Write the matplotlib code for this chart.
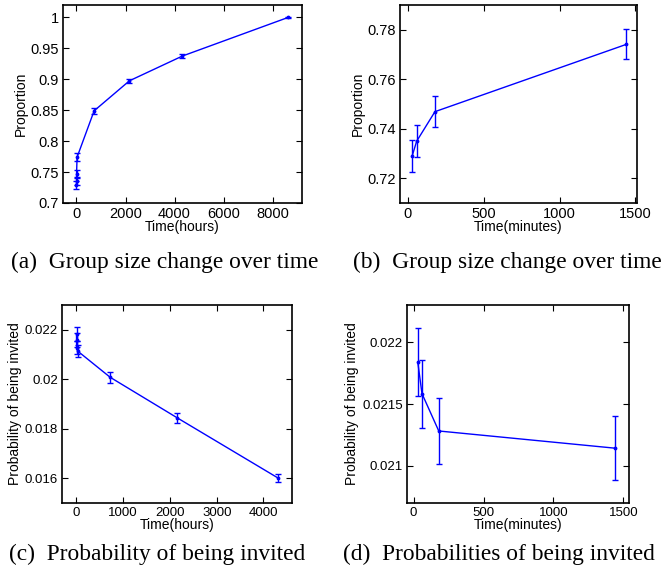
import matplotlib
matplotlib.use("Agg")
import matplotlib.pyplot as plt

# data
hours_a = [0.5, 1, 3, 24, 720, 2160, 4320, 8640]
prop_a = [0.729, 0.735, 0.747, 0.774, 0.849, 0.8975, 0.9375, 1.0]
err_a = [0.0063, 0.0064, 0.0062, 0.0061, 0.0045, 0.0037, 0.0027, 0.0008]

minutes_b = [30, 60, 180, 1440]
prop_b = [0.729, 0.735, 0.7469, 0.7741]
err_b = [0.0063, 0.0064, 0.0062, 0.0061]

hours_c = [0.5, 1, 3, 24, 720, 2160, 4320]
prob_c = [0.02184, 0.02158, 0.02128, 0.02114, 0.02008, 0.018435, 0.0160]
err_c = [0.00028, 0.00027, 0.00027, 0.00026, 0.00023, 0.00019, 0.00016]

minutes_d = [30, 60, 180, 1440]
prob_d = [0.021839, 0.021584, 0.021282, 0.021143]
err_d = [0.000278, 0.000274, 0.000268, 0.000258]

captions = ["(a)  Group size change over time", "(b)  Group size change over time",
            "(c)  Probability of being invited", "(d)  Probabilities of being invited"]

plt.rcParams['font.family'] = ['Liberation Sans', 'DejaVu Sans']

W, H = 665, 574
fig = plt.figure(figsize=(W / 100, H / 100), dpi=100)

def box(l, r, t, b):
    return [l / W, 1 - b / H, (r - l) / W, (b - t) / H]

def panel(rect, x, y, e, xlabel, ylabel, xlim, ylim, xticks, yticks, fs):
    ax = fig.add_axes(rect)
    ax.errorbar(x, y, yerr=e, color='#0000ff', lw=1.0, elinewidth=1.0,
                capsize=2.2, capthick=1.0, marker='.', markersize=3.5)
    ax.set_xlim(xlim)
    ax.set_ylim(ylim)
    ax.set_xticks(xticks)
    ax.set_yticks(yticks)
    ax.set_yticklabels(['%g' % v for v in yticks])
    ax.tick_params(direction='in', top=True, right=True, length=4,
                   labelsize=fs, pad=3)
    ax.set_xlabel(xlabel, fontsize=10, labelpad=-1)
    ax.set_ylabel(ylabel, fontsize=10, labelpad=2)
    for s in ax.spines.values():
        s.set_linewidth(1.2)
    return ax

panel(box(63, 302, 5, 203), hours_a, prop_a, err_a, "Time(hours)", "Proportion",
      (-550, 9200), (0.7, 1.02), [0, 2000, 4000, 6000, 8000],
      [0.7, 0.75, 0.8, 0.85, 0.9, 0.95, 1.0], 10.5)
panel(box(400, 637, 5, 203), minutes_b, prop_b, err_b, "Time(minutes)", "Proportion",
      (-50, 1510), (0.71, 0.79), [0, 500, 1000, 1500],
      [0.72, 0.74, 0.76, 0.78], 10.5)
panel(box(62, 292, 305, 503), hours_c, prob_c, err_c, "Time(hours)",
      "Probability of being invited",
      (-310, 4610), (0.015, 0.023), [0, 1000, 2000, 3000, 4000],
      [0.016, 0.018, 0.02, 0.022], 9.5)
panel(box(407, 629, 305, 503), minutes_d, prob_d, err_d, "Time(minutes)",
      "Probability of being invited",
      (-47, 1540), (0.0207, 0.0223), [0, 500, 1000, 1500],
      [0.021, 0.0215, 0.022], 9.5)

cap_pos = [(165, 262), (507, 262), (157, 554), (499, 554)]
for (cx, cy), txt in zip(cap_pos, captions):
    fig.text(cx / W, 1 - cy / H, txt, ha='center', va='center',
             family=['Liberation Serif', 'DejaVu Serif'], fontsize=16.8)

fig.savefig("out.png", dpi=100)
